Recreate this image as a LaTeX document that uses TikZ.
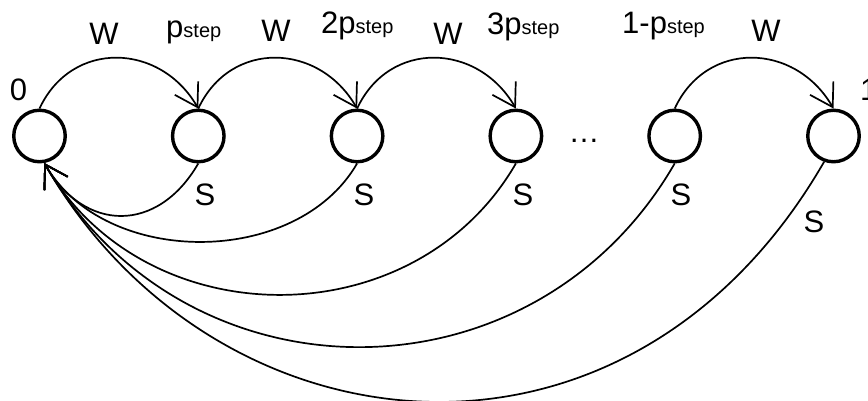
\documentclass[tikz,border=0pt]{standalone}
\usepackage{fontspec}
\setmainfont{Liberation Sans}
\usetikzlibrary{arrows.meta}
\newcommand\stepsub{{\fontsize{20}{22}\selectfont step}}
\begin{document}
\begin{tikzpicture}[x=1pt,y=1pt,
  state/.style={circle,draw,line width=3.4pt,minimum size=51.5pt,inner sep=0pt},
  lbl/.style={inner sep=0pt,anchor=base,font=\fontsize{31}{36}\selectfont},
  trans/.style={line width=1.7pt,-{Straight Barb[length=22pt,width=27pt]}},
]
\useasboundingbox (0,0) rectangle (868,400);
% states
\node[state] (n0) at (39.5,264) {};
\node[state] (n1) at (198.3,264) {};
\node[state] (n2) at (357.1,264) {};
\node[state] (n3) at (515.9,264) {};
\node[state] (n4) at (674.7,264) {};
\node[state] (n5) at (833.5,264) {};
% labels
\node[lbl] (l0) at (18.5,300) {0};
\node[lbl,anchor=base west] (l1) at (860,300) {1};
\node[lbl] (w1) at (104,355) {W};
\node[lbl,anchor=base west] (p1) at (166,362) {p\stepsub};
\node[lbl] (w2) at (276,358) {W};
\node[lbl,anchor=base west] (p2) at (321,366) {2p\stepsub};
\node[lbl] (w3) at (448,355) {W};
\node[lbl,anchor=base west] (p3) at (487,365) {3p\stepsub};
\node[lbl,anchor=base west] (p4) at (622,366) {1-p\stepsub};
\node[lbl] (w4) at (766,358) {W};
\node[lbl] (dots) at (584,258) {…};
\node[lbl] (s1) at (205,195) {S};
\node[lbl] (s2) at (364,195) {S};
\node[lbl] (s3) at (523,195) {S};
\node[lbl] (s4) at (681,195) {S};
\node[lbl] (s5) at (814,168) {S};
% W transitions
\draw[trans] (n0.north) to[out=65,in=120,looseness=1.23] (n1.north);
\draw[trans] (n1.north) to[out=65,in=120,looseness=1.23] (n2.north);
\draw[trans] (n2.north) to[out=65,in=120,looseness=1.23] (n3.north);
\draw[trans] (n4.north) to[out=65,in=120,looseness=1.23] (n5.north);
% S transitions
\draw[trans] (n1.south) to[out=240,in=300,looseness=1.34] (n0.-80);
\draw[trans] (n2.south) to[out=240,in=300,looseness=0.99] (n0.-80);
\draw[trans] (n3.south) to[out=240,in=300,looseness=1.10] (n0.-80);
\draw[trans] (n4.south) to[out=240,in=300,looseness=1.15] (n0.-80);
\draw[trans] (n5.-110) to[out=240,in=300,out looseness=1.3,in looseness=1.12] (n0.-80);
\end{tikzpicture}
\end{document}
